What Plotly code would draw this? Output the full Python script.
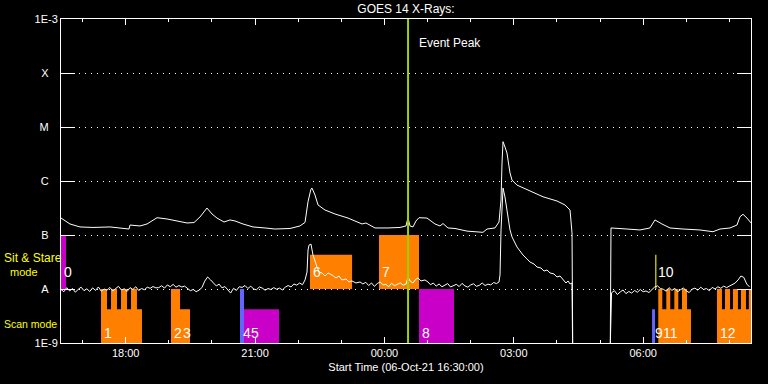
import plotly.graph_objects as go
import pandas as pd

START = pd.Timestamp("2021-10-06 16:30:00")
END = pd.Timestamp("2021-10-07 08:30:00")
EVENT_PEAK = ["2021-10-07 00:32:50"]

# ---- long channel (upper curve): minutes after start, flux W/m^2 ----
long_min = [0, 12.5, 26.4, 44.5, 68.2, 82.1, 91.8, 94.6, 96.0, 100.2, 109.9, 119.7, 133.6, 147.5,
            161.4, 175.3, 185.0, 193.3, 203.1, 210.1, 217.0, 226.8, 235.1, 242.1, 253.2, 267.1,
            283.8, 297.7, 318.6, 332.5, 339.5, 343.7, 347.8, 349.2, 353.4, 357.6, 367.3, 381.2,
            399.3, 418.8, 424.3, 436.9, 455.0, 471.7, 480.0, 482.8, 485.6, 489.7, 493.9, 498.1,
            509.2, 520.3, 527.3, 531.5, 538.4, 548.2, 564.9, 587.1, 592.7, 603.8, 609.4, 612.2,
            613.6, 615.0, 617.7, 620.5, 624.7, 627.5, 634.4, 652.5, 670.6, 690.1, 701.2, 708.2,
            711.0, 712.4, None, 763.8, 765.2, 787.4, 805.5, 819.4, 826.4, 836.1, 847.3, 865.4,
            889.0, 907.1, 916.9, 930.8, 940.5, 944.7, 948.9, 954.4, 960.0]
long_flux = [2.06e-7, 1.60e-7, 1.41e-7, 1.38e-7, 1.41e-7, 1.35e-7, 1.29e-7, 1.29e-7, 1.53e-7,
             1.50e-7, 1.47e-7, 1.60e-7, 2.09e-7, 1.98e-7, 1.82e-7, 1.67e-7, 1.70e-7, 2.15e-7,
             3.16e-7, 2.45e-7, 2.06e-7, 1.74e-7, 1.90e-7, 1.82e-7, 1.60e-7, 1.41e-7, 1.35e-7,
             1.29e-7, 1.32e-7, 1.47e-7, 1.71e-7, 4.14e-7, 7.1e-7, 7.4e-7, 5.5e-7, 3.6e-7, 2.9e-7,
             2.45e-7, 2.06e-7, 1.60e-7, 1.67e-7, 1.35e-7, 1.35e-7, 1.38e-7, 1.47e-7, 2.09e-7,
             1.47e-7, 1.41e-7, 1.82e-7, 2.09e-7, 2.06e-7, 1.60e-7, 1.47e-7, 1.63e-7, 1.35e-7,
             1.32e-7, 1.18e-7, 1.12e-7, 1.29e-7, 1.35e-7, 1.74e-7, 4.44e-7, 2.16e-6, 5.35e-6,
             4.26e-6, 3.30e-6, 1.41e-6, 1.04e-6, 8.4e-7, 6.6e-7, 5.1e-7, 4.26e-7, 3.6e-7, 2.9e-7,
             1.09e-7, 1e-10, None, 1e-10, 1.35e-7, 1.29e-7, 1.24e-7, 1.35e-7, 1.90e-7, 1.60e-7,
             1.35e-7, 1.29e-7, 1.24e-7, 1.15e-7, 1.29e-7, 1.35e-7, 1.53e-7, 2.18e-7, 2.42e-7,
             2.06e-7, 1.67e-7]

# ---- short channel (lower curve): minutes after start, flux in units of 1e-9 W/m^2 ----
short_min = (list(range(0, 340, 4))
             + [339.5, 342.3, 343.7, 345.1, 347.8, 350.6, 353.4, 356.2, 359.0, 363.1, 367.3,
                371.5, 377.0, 382.6, 386.8, 390.9, 396.5, 400.7, 404.9, 410.4, 416.0]
             + list(range(420, 484, 4))
             + [482.8, 485.6, 489.7, 493.9, 496.7, 500.9, 506.4, 510.6]
             + list(range(514, 610, 4))
             + [609.4, 610.8, 612.2, 613.6, 615.0, 617.7, 621.9, 624.7, 627.5, 631.6, 634.4,
                638.6, 642.8, 648.4, 652.5, 658.1, 662.3, 667.8, 672.0, 676.2, 680.4, 685.9,
                690.1, 694.3, 698.5, 702.6, 705.4, 708.2, 711.0, 712.4]
             + [None, 762.5]
             + list(range(766, 962, 4)))
short_flux_n = ([9.8, 8.9, 10.6, 9.2, 10.2, 8.7, 9.9, 10.8, 9.3, 10.1, 9.0, 10.5, 9.4, 10.9, 9.1, 10.0,
                 9.5, 10.7, 9.2, 10.3, 11.2, 9.6, 10.1, 9.0, 10.6, 9.8, 11.0, 9.4, 10.2, 9.7, 10.8,
                 10.3, 11.1, 10.5,
                 10.6, 11.5, 10.4, 11.9, 11.0, 12.2, 10.8, 11.6, 10.9, 11.3, 10.2,
                 9.3, 9.8, 8.9, 9.5, 10.6,
                 14.0, 16.7, 14.8, 13.0,
                 11.4, 12.3, 10.5, 11.1, 9.6, 8.4, 10.3, 9.4, 11.0,
                 10.7, 11.6, 10.2, 11.3, 10.0, 9.7, 10.9, 10.4, 9.5, 10.2, 9.8, 10.6, 9.9,
                 10.4, 9.6, 10.8, 11.6, 10.9, 12.4, 11.8, 12.9, 12.0]
                + [14.7, 20.6, 52.7, 65, 68, 42.6, 31.6, 25.5, 20.6, 19.8, 17.4, 19.8, 18.2, 16.0,
                   17.4, 14.7, 15.3, 13.5, 14.1, 12.9, 13.5]
                + [12.4, 13.3, 11.6, 12.9, 11.2, 12.6, 13.5, 11.9, 12.2, 11.0, 12.8, 11.5, 12.4,
                   13.0, 11.8, 12.3]
                + [16.7, 14.1, 12.9, 15.3, 16.0, 14.1, 14.7, 13.5]
                + [12.0, 12.9, 11.3, 12.4, 11.0, 11.8, 12.6, 10.9, 11.5, 12.2, 11.1, 12.7, 11.4,
                   10.8, 11.9, 12.5, 11.2, 11.7, 12.9, 11.6, 12.3, 11.9, 13.2, 12.6]
                + [13.5, 18.2, 124, 445, 740, 505, 215, 124, 92, 71, 60, 50.6, 42.6, 36, 31.6,
                   29.0, 25.5, 24.5, 21.5, 22.5, 19.8, 19.0, 16.7, 17.4, 14.7, 12.9, 14.1, 12.4,
                   12.9, 0.1]
                + [None, 0.1]
                + [8.5, 9.3, 7.9, 8.8, 9.6, 8.2, 9.0, 8.4, 9.4, 8.7, 9.8, 8.9, 9.2, 8.6, 9.5,
                   10.9, 11.4, 10.2,
                   9.9, 9.1, 10.6, 9.4, 10.3, 8.9, 9.7, 10.5, 9.2, 8.6, 9.9, 10.4, 9.5, 10.8, 9.8,
                   10.2, 9.3, 10.7, 10.0, 11.0, 10.3, 11.3, 10.6,
                   11.4, 12.2, 12.9, 14.7, 17.4, 16.4, 12.4, 10.9])

# ---- observation windows ----
win_label = ["0", "1", "2", "3", "4", "5", "6", "7", "8", "9", "10", "11", "12"]
win_start = ["2021-10-06 16:30:00", "2021-10-06 17:25:40", "2021-10-06 19:03:00",
             "2021-10-06 19:15:40", "2021-10-06 20:39:00", "2021-10-06 20:44:40",
             "2021-10-06 22:16:25", "2021-10-06 23:52:25", "2021-10-07 00:48:05",
             "2021-10-07 06:12:20", "2021-10-07 06:16:50", "2021-10-07 06:21:00",
             "2021-10-07 07:42:40"]
win_end = ["2021-10-06 16:37:00", "2021-10-06 18:22:40", "2021-10-06 19:15:40",
           "2021-10-06 19:29:30", "2021-10-06 20:44:40", "2021-10-06 21:33:20",
           "2021-10-06 23:15:00", "2021-10-07 00:48:05", "2021-10-07 01:36:50",
           "2021-10-07 06:16:25", "2021-10-07 06:18:20", "2021-10-07 07:06:30",
           "2021-10-07 08:33:00"]
win_mode = ["sit", "scan", "scan", "scan", "scan", "scan", "sit", "sit", "scan", "scan", "sit",
            "scan", "scan"]
win_color = ["magenta", "orange", "orange", "orange", "blue", "magenta", "orange", "orange",
             "magenta", "blue", "yellow", "orange", "orange"]
win_top = [1e-7, 4.2e-9, 1e-8, 4.2e-9, 1e-8, 4.2e-9, 4.3e-8, 1e-7, 1e-8, 4.2e-9, 4.3e-8,
           4.2e-9, 4.2e-9]

tooth_start = ["2021-10-06 17:25:40", "2021-10-06 17:39:35", "2021-10-06 17:53:30",
               "2021-10-06 18:07:25", "2021-10-07 06:21:00", "2021-10-07 06:32:10",
               "2021-10-07 06:43:20", "2021-10-07 06:54:00", "2021-10-07 07:42:40",
               "2021-10-07 07:53:50", "2021-10-07 08:04:55", "2021-10-07 08:16:00",
               "2021-10-07 08:27:00"]
tooth_end = ["2021-10-06 17:34:00", "2021-10-06 17:47:55", "2021-10-06 18:01:50",
             "2021-10-06 18:15:40", "2021-10-07 06:26:35", "2021-10-07 06:37:40",
             "2021-10-07 06:48:50", "2021-10-07 07:01:00", "2021-10-07 07:49:35",
             "2021-10-07 08:00:50", "2021-10-07 08:11:50", "2021-10-07 08:23:00",
             "2021-10-07 08:33:00"]

y_tickvals = [1e-9, 1e-8, 1e-7, 1e-6, 1e-5, 1e-4, 1e-3]
y_ticktext = ["1E-9", "A", "B", "C", "M", "X", "1E-3"]

# ---- styles ----
COLORS = {"magenta": "#c800c8", "orange": "#ff8000", "blue": "#6464ff", "yellow": "#ffff00"}
BAND_BOTTOM = {"sit": 1e-8, "scan": 1e-9}
LABEL_Y = {"sit": -7.68, "scan": -8.81}
LABEL_NUDGE = {"5": 5, "11": 3}
SCAN_FULL = 1e-8


def tmin(m):
    return None if m is None else START + pd.Timedelta(minutes=m)


fig = go.Figure()

# rectangles grouped by colour
rects = {c: ([], []) for c in COLORS}
for s, e, mode, col, top in zip(win_start, win_end, win_mode, win_color, win_top):
    b = BAND_BOTTOM[mode]
    xs, ys = rects[col]
    xs += [s, e, e, s, s, None]
    ys += [b, b, top, top, b, None]
for s, e in zip(tooth_start, tooth_end):
    xs, ys = rects["orange"]
    xs += [s, e, e, s, s, None]
    ys += [BAND_BOTTOM["scan"], BAND_BOTTOM["scan"], SCAN_FULL, SCAN_FULL, BAND_BOTTOM["scan"], None]

for col, (xs, ys) in rects.items():
    fig.add_trace(go.Scatter(x=xs, y=ys, mode="lines", fill="toself", fillcolor=COLORS[col],
                             line=dict(width=0, color=COLORS[col]), hoverinfo="skip"))

fig.add_trace(go.Scatter(x=[tmin(m) for m in long_min], y=long_flux, mode="lines",
                         line=dict(color="white", width=1), connectgaps=False))
fig.add_trace(go.Scatter(x=[tmin(m) for m in short_min],
                         y=[None if v is None else v * 1e-9 for v in short_flux_n], mode="lines",
                         line=dict(color="white", width=1), connectgaps=False))

fig.add_trace(go.Scatter(x=EVENT_PEAK * 2, y=[1e-9, 1e-3], mode="lines",
                         line=dict(color="#a0d000", width=2)))

annotations = []
for lab, s, mode in zip(win_label, win_start, win_mode):
    annotations.append(dict(x=s, y=LABEL_Y[mode], xref="x", yref="y", text=lab, showarrow=False,
                            xanchor="left", yanchor="middle", xshift=LABEL_NUDGE.get(lab, 1),
                            font=dict(size=14, color="white", family="Liberation Sans")))
annotations.append(dict(x=EVENT_PEAK[0], y=(343 - 43) / 324, xref="x", yref="paper",
                        text="Event Peak", showarrow=False, xanchor="left", yanchor="middle",
                        xshift=9, font=dict(size=12, color="white")))
annotations.append(dict(x=-59 / 690, y=(343 - 258) / 324, xref="paper", yref="paper",
                        text="Sit & Stare", showarrow=False, xanchor="left", yanchor="middle",
                        font=dict(size=12, color="#ffff00")))
annotations.append(dict(x=-37 / 690, y=(343 - 272) / 324, xref="paper", yref="paper",
                        text="mode", showarrow=False, xanchor="center", yanchor="middle",
                        font=dict(size=11, color="#ffff00")))
annotations.append(dict(x=-59 / 690, y=(343 - 324) / 324, xref="paper", yref="paper",
                        text="Scan mode", showarrow=False, xanchor="left", yanchor="middle",
                        font=dict(size=10.5, color="#ffff00")))

pad = "\u00a0\u00a0\u00a0"
fig.update_layout(
    width=768, height=384,
    margin=dict(l=61, r=17, t=19, b=41),
    paper_bgcolor="black", plot_bgcolor="black",
    showlegend=False,
    font=dict(family="Liberation Sans", size=11, color="white"),
    title=dict(text="GOES 14 X-Rays:", x=0.5, xref="paper", xanchor="center",
               y=1 - 9 / 384, yref="container", yanchor="middle",
               font=dict(size=12, color="white")),
    annotations=annotations,
    xaxis=dict(type="date", range=[START, END], tickformat="%H:%M", dtick=3 * 3600000,
               tick0="2021-10-06 18:00:00", ticks="inside", ticklen=6, tickwidth=1,
               tickcolor="white", showline=True, linecolor="white", linewidth=1,
               mirror="ticks", showgrid=False, zeroline=False, automargin=False,
               tickfont=dict(size=11, color="white"),
               minor=dict(dtick=3600000, tick0="2021-10-06 17:00:00", ticks="inside",
                          ticklen=3, tickcolor="white", showgrid=False),
               title=dict(text="Start Time (06-Oct-21 16:30:00)", standoff=5,
                          font=dict(size=11, color="white"))),
    yaxis=dict(type="log", range=[-9, -3], tickvals=y_tickvals,
               ticktext=[t if len(t) > 1 else t + pad for t in y_ticktext],
               ticks="inside", ticklen=14, tickwidth=1, tickcolor="white",
               showline=True, linecolor="white", linewidth=1, mirror="ticks",
               showgrid=True, gridcolor="white", gridwidth=1, griddash="1px,5px",
               zeroline=False, automargin=False, tickfont=dict(size=11, color="white")),
)

fig.write_html("out.html", config={"displayModeBar": False},
               post_script="document.body.style.margin='0px';document.body.style.overflow='hidden';")
